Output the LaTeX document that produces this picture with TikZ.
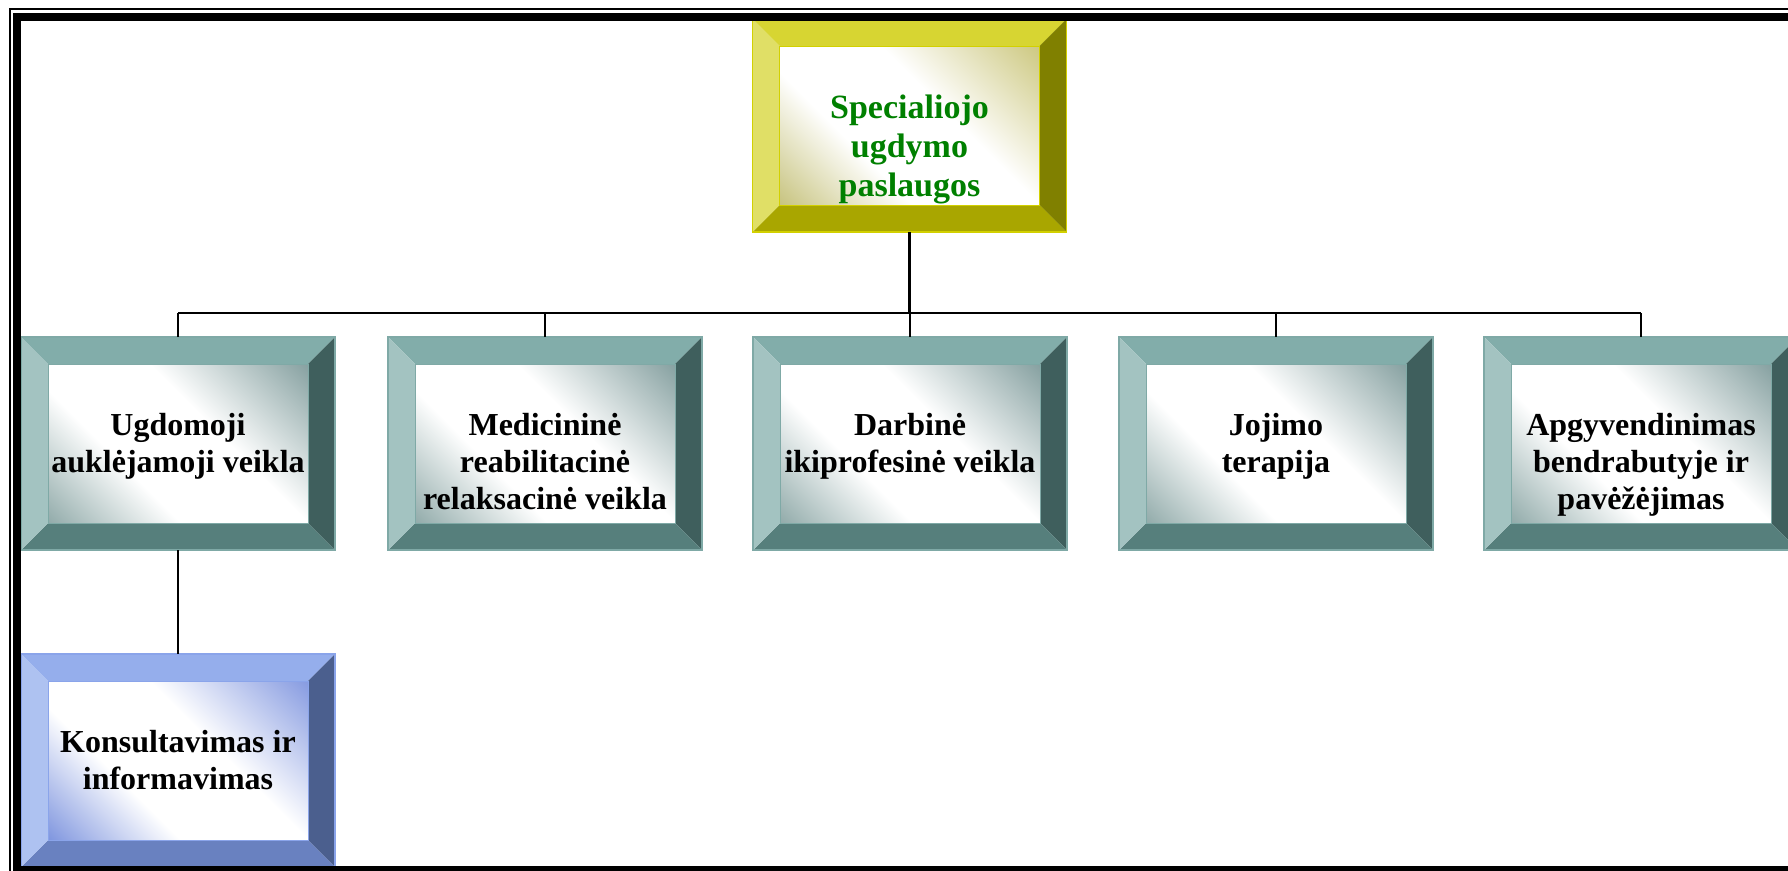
\documentclass[tikz,border=0pt]{standalone}
\usepackage{fontspec}
\setmainfont{Liberation Serif}
\usetikzlibrary{calc}

% palettes: top / left / right / bottom bevel, face tints, outline
\definecolor{yellowtop}{HTML}{D7D532}
\definecolor{yellowleft}{HTML}{E0DF66}
\definecolor{yellowright}{HTML}{808000}
\definecolor{yellowbottom}{HTML}{A9A600}
\definecolor{yellowtr}{HTML}{CCC77E}
\definecolor{yellowbl}{HTML}{C6C27C}
\definecolor{yellowline}{HTML}{D2D000}

\definecolor{tealtop}{HTML}{82ADAA}
\definecolor{tealleft}{HTML}{A3C3C1}
\definecolor{tealright}{HTML}{3F5F5D}
\definecolor{tealbottom}{HTML}{567F7C}
\definecolor{tealtr}{HTML}{849F9F}
\definecolor{tealbl}{HTML}{8FA9A8}
\definecolor{tealline}{HTML}{7FA9A6}

\definecolor{bluetop}{HTML}{95AEEC}
\definecolor{blueleft}{HTML}{AEC2F1}
\definecolor{blueright}{HTML}{4B5F8E}
\definecolor{bluebottom}{HTML}{6981C0}
\definecolor{bluetr}{HTML}{8499E0}
\definecolor{bluebl}{HTML}{7C93DE}
\definecolor{blueline}{HTML}{8AA4EA}

\definecolor{rootgreen}{HTML}{008000}

% face shadings: tinted lower-left and upper-right corners, white diagonal band
\pgfdeclarehorizontalshading{yellowface}{100bp}{color(0bp)=(yellowbl); color(25bp)=(yellowbl); color(41bp)=(white); color(56bp)=(white); color(75bp)=(yellowtr); color(100bp)=(yellowtr)}
\pgfdeclarehorizontalshading{tealface}{100bp}{color(0bp)=(tealbl); color(25bp)=(tealbl); color(41bp)=(white); color(56bp)=(white); color(75bp)=(tealtr); color(100bp)=(tealtr)}
\pgfdeclarehorizontalshading{blueface}{100bp}{color(0bp)=(bluebl); color(25bp)=(bluebl); color(41bp)=(white); color(56bp)=(white); color(75bp)=(bluetr); color(100bp)=(bluetr)}

% bevelled box: #1 name, #2 centre, #3 palette
\newcommand\bevelbox[3]{%
  \node[boxbase] (#1) at (#2) {};
  \fill[#3top] (#1.north west) -- (#1.north east) -- ($(#1.north east)+(-27,27)$) -- ($(#1.north west)+(27,27)$) -- cycle;
  \fill[#3right] (#1.north east) -- (#1.south east) -- ($(#1.south east)+(-27,-27)$) -- ($(#1.north east)+(-27,27)$) -- cycle;
  \fill[#3bottom] (#1.south east) -- (#1.south west) -- ($(#1.south west)+(27,-27)$) -- ($(#1.south east)+(-27,-27)$) -- cycle;
  \fill[#3left] (#1.south west) -- (#1.north west) -- ($(#1.north west)+(27,27)$) -- ($(#1.south west)+(27,-27)$) -- cycle;
  \begin{scope}
    \clip ($(#1.north west)+(27,27)$) rectangle ($(#1.south east)+(-27,-27)$);
    \shade[shading=#3face,transform canvas={rotate around={45:(#1.center)}}]
      ($(#1.center)+(-150,-150)$) rectangle ($(#1.center)+(150,150)$);
  \end{scope}
  \draw[#3line,line width=1pt] ($(#1.north west)+(27,27)$) rectangle ($(#1.south east)+(-27,-27)$);
  \draw[#3line,line width=1.2pt] (#1.north west) rectangle (#1.south east);
}

\begin{document}
\begin{tikzpicture}[x=1pt,y=-1pt,
  boxbase/.style={minimum width=314pt,minimum height=213pt,inner sep=0pt,outer sep=0pt},
  boxtext/.style={font=\fontsize{32}{37}\selectfont\bfseries,align=center,inner sep=0pt,anchor=base},
  link/.style={line width=2pt},
  trunk/.style={line width=3pt},
  frame/.style={line width=8pt},
  frameline/.style={line width=2pt}]
\useasboundingbox (0,0) rectangle (1788,870);
\clip (0,0) rectangle (1788,870);
\fill[white] (0,0) rectangle (1788,870);

% boxes
\bevelbox{root}{909.5,125.5}{yellow}
\bevelbox{ugd}{178,443.5}{teal}
\bevelbox{med}{545,443.5}{teal}
\bevelbox{darb}{910,443.5}{teal}
\bevelbox{joj}{1276,443.5}{teal}
\bevelbox{apg}{1641,443.5}{teal}
\bevelbox{kons}{178,760.5}{blue}

% texts (anchored on the baseline of the last line)
\node[boxtext,text=rootgreen,font=\fontsize{34}{39}\selectfont\bfseries] (root-t) at (909.5,196) {Specialiojo\\ugdymo\\paslaugos};
\node[boxtext] (ugd-t) at (178,472) {Ugdomoji\\auklėjamoji veikla};
\node[boxtext] (med-t) at (545,509) {Medicininė\\reabilitacinė\\relaksacinė veikla};
\node[boxtext] (darb-t) at (910,472) {Darbinė\\ikiprofesinė veikla};
\node[boxtext] (joj-t) at (1276,472) {Jojimo\\terapija};
\node[boxtext] (apg-t) at (1641,509) {Apgyvendinimas\\bendrabutyje ir\\pavėžėjimas};
\node[boxtext] (kons-t) at (178,789) {Konsultavimas ir\\informavimas};

% connectors
\coordinate (bus) at (910,313);
\draw[trunk] (root.south) -- (root.south |- bus);
\draw[link] (ugd.north |- bus) -- (apg.north |- bus);
\foreach \n in {ugd,med,darb,joj,apg}
  \draw[link] (\n.north |- bus) -- (\n.north);
\draw[link] (ugd.south) -- (kons.north);

% page frame
\draw[frame] (17,16.5) rectangle (1800,870);
\draw[frameline] (10,9) rectangle (1810,890);
\end{tikzpicture}
\end{document}
